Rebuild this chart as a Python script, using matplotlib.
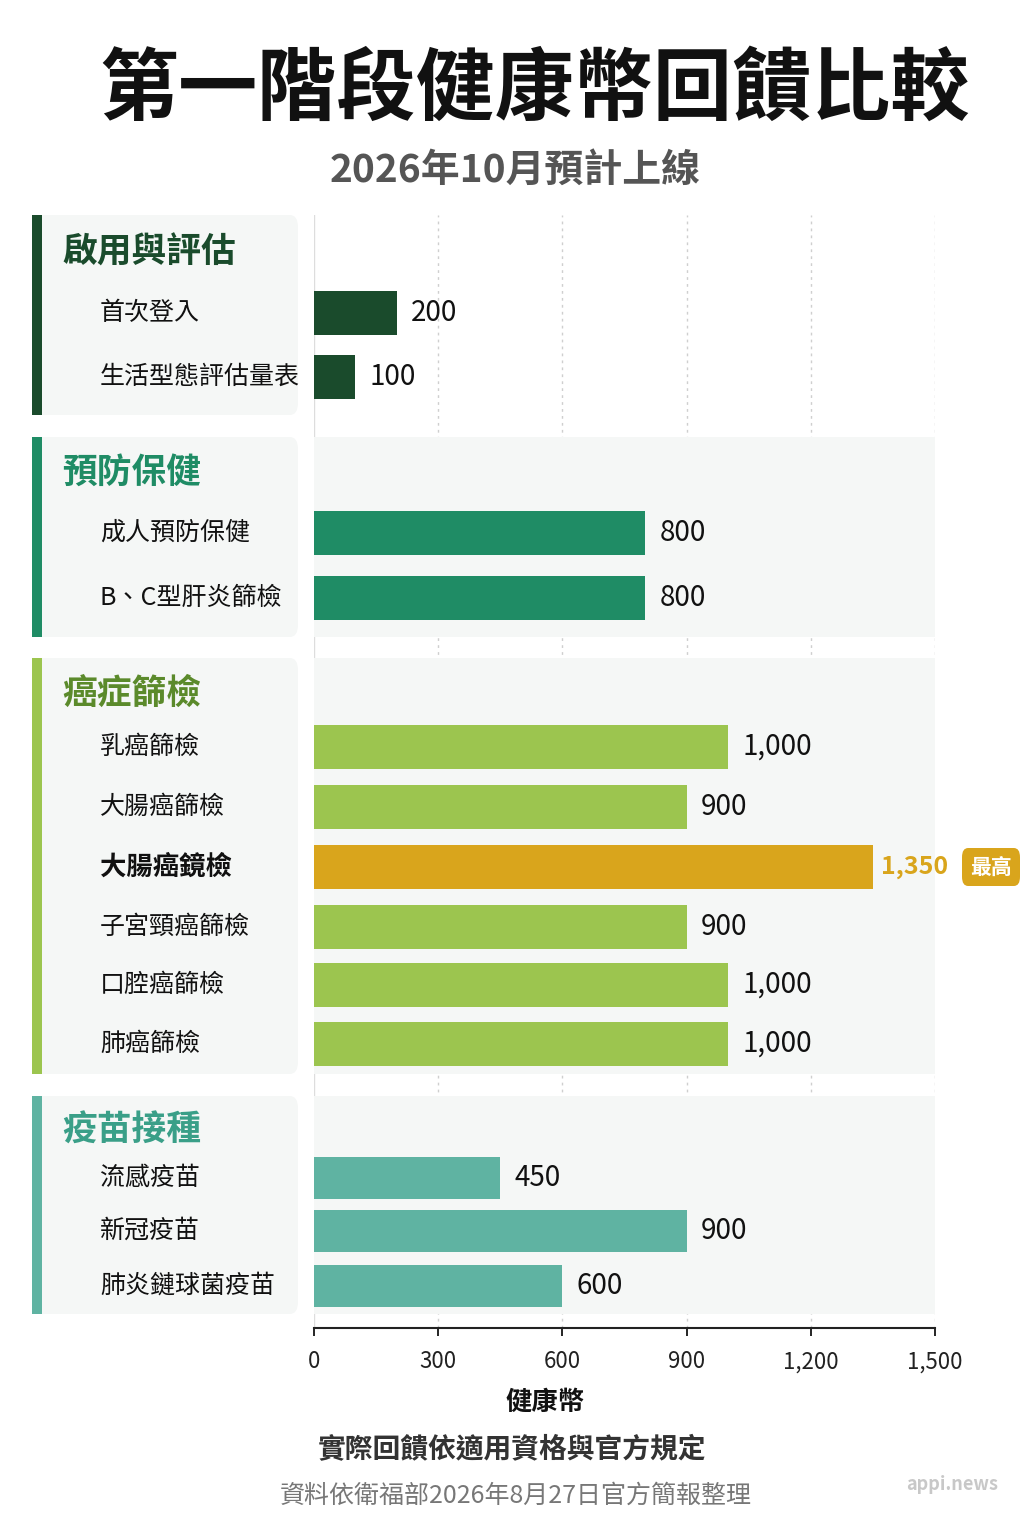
import matplotlib
matplotlib.use("Agg")
import matplotlib.pyplot as plt
from matplotlib.patches import FancyBboxPatch, Rectangle

plt.rcParams['font.family'] = ['Noto Sans CJK TC', 'DejaVu Sans']

groups = ["啟用與評估", "預防保健", "癌症篩檢", "疫苗接種"]
items = [
    ["首次登入", "生活型態評估量表"],
    ["成人預防保健", "B、C型肝炎篩檢"],
    ["乳癌篩檢", "大腸癌篩檢", "大腸癌鏡檢", "子宮頸癌篩檢", "口腔癌篩檢", "肺癌篩檢"],
    ["流感疫苗", "新冠疫苗", "肺炎鏈球菌疫苗"],
]
values = [
    [200, 100],
    [800, 800],
    [1000, 900, 1350, 900, 1000, 1000],
    [450, 900, 600],
]
xticks = [0, 300, 600, 900, 1200, 1500]

# layout (pixel coordinates on the figure)
bar_y = [[313, 377], [533, 598], [747, 807, 867, 927, 985, 1044], [1178, 1231, 1286]]
bar_h = [44, 44, 44, 42]
group_span = [(215, 415), (437, 637), (658, 1074), (1096, 1314)]
group_title_y = [252, 472, 693, 1130]
bar_colors = ["#1a4b2c", "#1f8c65", "#9cc54f", "#5fb3a2"]
title_colors = ["#1a4b2c", "#1f8c65", "#5b8a2b", "#3a9f88"]
highlight = "#d9a51c"

W, H = 1024, 1536
fig = plt.figure(figsize=(W/100, H/100), dpi=100)
fig.patch.set_facecolor("white")

ax_top, ax_bot = 215, 1328
ax = fig.add_axes([314/W, 1-ax_bot/H, 621/W, (ax_bot-ax_top)/H])
ax.set_xlim(0, 1500)
ax.set_ylim(ax_bot, ax_top)
ax.set_facecolor("none")
for s in ["top", "right", "left"]:
    ax.spines[s].set_visible(False)
ax.spines["bottom"].set_linewidth(1.5)
ax.spines["bottom"].set_color("#222")
ax.set_yticks([])
ax.set_xticks(xticks)
ax.set_xticklabels([f"{t:,}" for t in xticks], fontsize=16, color="#222")
ax.tick_params(axis="x", length=6, width=1.2, pad=10)
ax.set_xlabel("健康幣", fontsize=19, color="#111", labelpad=6, fontweight="bold")
ax.xaxis.set_label_coords((545-314)/621, -0.055)
for t in xticks[1:]:
    ax.axvline(t, color="#cfcfcf", lw=1, ls=(0, (2, 3)), zorder=0)
ax.axvline(0, color="#dddddd", lw=1, zorder=0)

for gi, (g, its, vals) in enumerate(zip(groups, items, values)):
    y0, y1 = group_span[gi]
    if gi > 0:
        ax.add_patch(Rectangle((0, y0), 1500, y1-y0, facecolor="#f5f7f6", edgecolor="none", zorder=0))
    fig.patches.append(FancyBboxPatch((34/W, 1-y1/H), 264/W, (y1-y0)/H,
        boxstyle="round,pad=0,rounding_size=0.008", transform=fig.transFigure,
        facecolor="#f5f7f6", edgecolor="none", zorder=0))
    fig.patches.append(Rectangle((32/W, 1-y1/H), 10/W, (y1-y0)/H, transform=fig.transFigure,
        facecolor=bar_colors[gi], edgecolor="none", zorder=1))
    fig.text(62/W, 1-group_title_y[gi]/H, g, fontsize=25, fontweight="bold",
             color=title_colors[gi], va="center", ha="left")
    for name, v, yc in zip(its, vals, bar_y[gi]):
        hl = v == 1350
        c = highlight if hl else bar_colors[gi]
        ax.barh(yc, v, height=bar_h[gi], color=c, zorder=2)
        fig.text(100/W, 1-yc/H, name, fontsize=19 if hl else 18, fontweight="bold" if hl else "medium",
                 color="#111", va="center", ha="left")
        if hl:
            ax.text(v + 20, yc, f"{v:,}", fontsize=18, va="center", ha="left",
                    color=highlight, fontweight="bold")
            fig.patches.append(FancyBboxPatch((962/W, 1-886/H), 58/W, 38/H,
                boxstyle="round,pad=0,rounding_size=0.006", transform=fig.transFigure,
                facecolor=highlight, edgecolor="none"))
            fig.text(991/W, 1-867/H, "最高", fontsize=15, fontweight="bold", color="white",
                     ha="center", va="center")
        else:
            ax.text(v + 35, yc, f"{v:,}", fontsize=20, va="center", ha="left", color="#111")

fig.text(535/W, 1-90/H, "第一階段健康幣回饋比較", fontsize=57, fontweight="black",
         ha="center", va="center", color="#111")
fig.text(515/W, 1-170/H, "2026年10月預計上線", fontsize=28, fontweight="bold",
         ha="center", va="center", color="#555")
fig.text(512/W, 1-1450/H, "實際回饋依適用資格與官方規定", fontsize=20, fontweight="bold",
         ha="center", va="center", color="#333")
fig.text(516/W, 1-1496/H, "資料依衛福部2026年8月27日官方簡報整理", fontsize=18,
         ha="center", va="center", color="#777")
fig.text(952/W, 1-1484/H, "appi.news", fontsize=13, fontweight="bold",
         ha="center", va="center", color="#c8c8c8")

fig.savefig("out.png", dpi=100)
